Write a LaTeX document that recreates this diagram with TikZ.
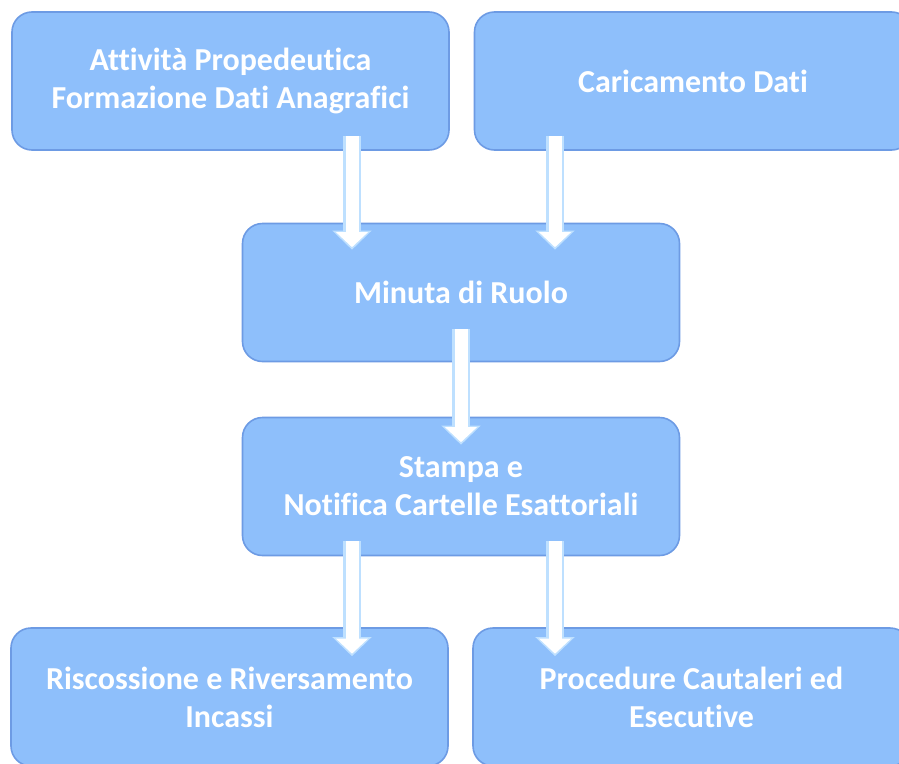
\documentclass[tikz,border=0pt]{standalone}
\usepackage{fontspec}
\setmainfont{Carlito}[Ligatures=NoCommon]
\usetikzlibrary{arrows.meta}
\definecolor{boxblue}{HTML}{8EBFFB}
\definecolor{boxedge}{HTML}{6D9BE4}
\definecolor{flowedge}{HTML}{BEE0FF}
\tikzset{
  box/.style={draw=boxedge, line width=1.6pt, fill=boxblue, rounded corners=20pt,
    minimum width=437pt, minimum height=138pt, text=white, align=center,
    font=\fontsize{32}{38}\selectfont\bfseries},
  flow/.style={line width=18pt, draw=flowedge, -{Triangle[width=38pt,length=19pt]},
    postaction={draw=white, line width=13pt, -{Triangle[width=31pt,length=15pt]}, shorten >=2.5pt}}
}
\begin{document}
\begin{tikzpicture}[x=1pt, y=-1pt]
    \clip (0,0) rectangle (899,763);
    \fill[white] (0,0) rectangle (899,763);
    % boxes
    \node[box] (attivita) at (230.5,81) {Attività Propedeutica\\Formazione Dati Anagrafici};
    \node[box] (caricamento) at (693,81) {Caricamento Dati};
    \node[box] (minuta) at (461,292.5) {Minuta di Ruolo};
    \node[box] (stampa) at (461,486.5) {Stampa e\\Notifica Cartelle Esattoriali};
    \node[box] (riscossione) at (229.5,697) {Riscossione e Riversamento\\Incassi};
    \node[box] (procedure) at (691.5,697) {Procedure Cautaleri ed\\Esecutive};
    % arrows
    \draw[flow] ([xshift=121.5pt,yshift=15pt]attivita.south) -- ([xshift=-109pt,yshift=-27pt]minuta.north);
    \draw[flow] ([xshift=-138pt,yshift=15pt]caricamento.south) -- ([xshift=94pt,yshift=-27pt]minuta.north);
    \draw[flow] ([yshift=33pt]minuta.south) -- ([yshift=-28pt]stampa.north);
    \draw[flow] ([xshift=-109pt,yshift=15pt]stampa.south) -- ([xshift=122.5pt,yshift=-29pt]riscossione.north);
    \draw[flow] ([xshift=94pt,yshift=15pt]stampa.south) -- ([xshift=-136.5pt,yshift=-29pt]procedure.north);
\end{tikzpicture}
\end{document}
